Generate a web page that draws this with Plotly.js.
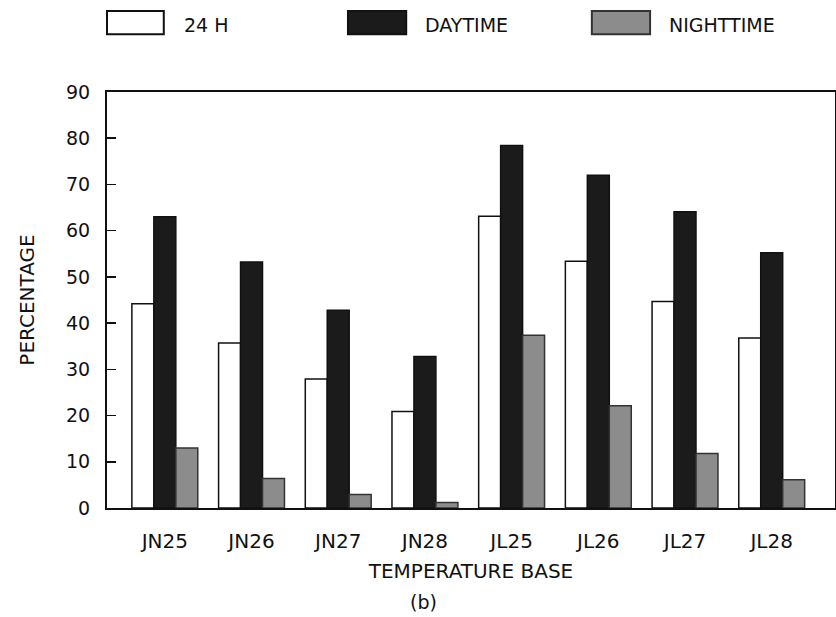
<!DOCTYPE html>
<html>
<head>
<meta charset="utf-8">
<script src="https://cdn.plot.ly/plotly-3.0.1.min.js"></script>
<style>
  html, body { margin: 0; padding: 0; background: #fff; }
  #chart { width: 836px; height: 617px; }
</style>
</head>
<body>
<div id="chart"></div>
<script>
// ---- data ----
const categories = ["JN25", "JN26", "JN27", "JN28", "JL25", "JL26", "JL27", "JL28"];
const seriesNames = ["24 H", "DAYTIME", "NIGHTTIME"];
const values24h      = [44.2, 35.7, 27.9, 20.9, 63.1, 53.4, 44.7, 36.8];
const valuesDaytime  = [63.0, 53.2, 42.8, 32.8, 78.4, 72.0, 64.1, 55.2];
const valuesNight    = [13.0, 6.4, 2.9, 1.2, 37.4, 22.1, 11.8, 6.1];
const yTickValues = [0, 10, 20, 30, 40, 50, 60, 70, 80, 90];

// ---- styles ----
const FONT = "DejaVu Sans, Liberation Sans, sans-serif";
const fills = ["#ffffff", "#1b1b1b", "#8c8c8c"];
const outlines = ["#111111", "#111111", "#333333"];
const seriesValues = [values24h, valuesDaytime, valuesNight];

const traces = seriesNames.map((name, i) => ({
  type: "bar",
  name: name,
  x: categories,
  y: seriesValues[i],
  marker: { color: fills[i], line: { color: outlines[i], width: 1.5 } },
  showlegend: false,
  hoverinfo: "x+y+name"
}));

// custom legend (boxes + labels) in paper coordinates
const legendBoxes = [[0.0, 0.078], [0.331, 0.411], [0.666, 0.746]];
const legendTextX = [0.103, 0.434, 0.769];
const shapes = seriesNames.map((n, i) => ({
  type: "rect", xref: "paper", yref: "paper",
  x0: legendBoxes[i][0], x1: legendBoxes[i][1], y0: 1.139, y1: 1.195,
  fillcolor: fills[i], line: { color: outlines[i], width: 2 }
}));
const annotations = seriesNames.map((n, i) => ({
  text: n, xref: "paper", yref: "paper", x: legendTextX[i], y: 1.162,
  xanchor: "left", yanchor: "middle", showarrow: false,
  font: { family: FONT, size: 19, color: "#111" }
}));
annotations.push({
  text: "(b)", xref: "paper", yref: "paper", x: 0.4354, y: -0.226,
  xanchor: "center", yanchor: "middle", showarrow: false,
  font: { family: FONT, size: 19, color: "#111" }
});

const layout = {
  width: 836, height: 617,
  margin: { l: 107, r: 1, t: 92, b: 109, pad: 0 },
  paper_bgcolor: "#fff", plot_bgcolor: "#fff",
  barmode: "group", bargap: 0.24, bargroupgap: 0,
  font: { family: FONT, size: 19, color: "#111" },
  xaxis: {
    type: "category",
    range: [-0.667, 7.73],
    showline: true, mirror: true, linecolor: "#111", linewidth: 2,
    ticks: "", showgrid: false, zeroline: false,
    tickfont: { family: FONT, size: 20, color: "#111" },
    ticklabelstandoff: 14,
    title: { text: "TEMPERATURE BASE", font: { family: FONT, size: 20, color: "#111" }, standoff: 12 },
    fixedrange: true
  },
  yaxis: {
    range: [0, 90],
    tickvals: yTickValues,
    showline: true, mirror: true, linecolor: "#111", linewidth: 2,
    ticks: "inside", ticklen: 9, tickwidth: 1.5, tickcolor: "#111",
    showgrid: false, zeroline: false,
    tickfont: { family: FONT, size: 19, color: "#111" },
    ticklabelstandoff: 11,
    title: { text: "PERCENTAGE", font: { family: FONT, size: 20, color: "#111" }, standoff: 26 },
    fixedrange: true
  },
  shapes: shapes,
  annotations: annotations
};

Plotly.newPlot("chart", traces, layout, { displayModeBar: false, staticPlot: true });
</script>
</body>
</html>
